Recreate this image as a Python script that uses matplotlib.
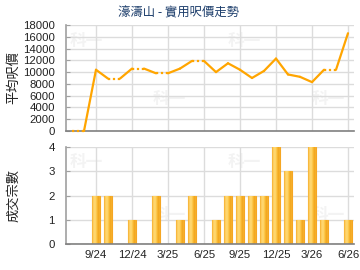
import matplotlib
matplotlib.use("Agg")
import matplotlib.pyplot as plt
import numpy as np
from matplotlib.colors import LinearSegmentedColormap

# ---- data ----
months = ['7/24', '8/24', '9/24', '10/24', '11/24', '12/24', '1/25', '2/25', '3/25',
          '4/25', '5/25', '6/25', '7/25', '8/25', '9/25', '10/25', '11/25', '12/25',
          '1/26', '2/26', '3/26', '4/26', '5/26', '6/26']
prices = [0, 0, 10400, 8900, 8900, 10600, 10600, 9800, 9800, 10600, 11900, 11900,
          10000, 11500, 10400, 9000, 10200, 12300, 9600, 9200, 8300, 10400, 10400, 16600]
counts = [0, 0, 2, 2, 0, 1, 0, 2, 0, 1, 2, 0, 1, 2, 2, 2, 2, 4, 3, 1, 4, 1, 0, 1]
tick_labels = ['9/24', '12/24', '3/25', '6/25', '9/25', '12/25', '3/26', '6/26']
price_ticks = [0, 2000, 4000, 6000, 8000, 10000, 12000, 14000, 16000, 18000]
count_ticks = [0, 1, 2, 3, 4]
title = '濠濤山 - 實用呎價走勢'
ylabel_top = '平均呎價'
ylabel_bottom = '成交宗數'

CJK = ['Noto Sans CJK TC', 'DejaVu Sans']
NUM = ['Liberation Sans', 'DejaVu Sans']

fig = plt.figure(figsize=(3.6, 2.7), dpi=100)
fig.patch.set_facecolor('white')

W, H = 360, 270
def rect(l, t, r, b):
    return [l / W, 1 - b / H, (r - l) / W, (b - t) / H]

ax1 = fig.add_axes(rect(66, 25, 354, 131))
ax2 = fig.add_axes(rect(66, 147, 354, 244))

x = np.arange(len(months))
tick_pos = [months.index(t) for t in tick_labels]

for ax in (ax1, ax2):
    ax.set_xlim(-0.5, 23.5)
    ax.set_xticks(tick_pos)
    ax.grid(True, color='#dcdcdc', linewidth=1.0)
    ax.set_axisbelow(True)
    for s in ('top', 'right'):
        ax.spines[s].set_visible(False)
    ax.spines['left'].set_color('#a0a0a0')
    ax.spines['bottom'].set_color('#808080')
    ax.spines['left'].set_linewidth(1.2)
    ax.spines['bottom'].set_linewidth(1.2)
    ax.tick_params(axis='y', direction='in', length=3, color='#a0a0a0', pad=8,
                   labelsize=8.2, labelcolor='#222222')
    ax.tick_params(axis='x', length=0, pad=4, labelsize=8.2, labelcolor='#222222')
    for lab in ax.get_yticklabels() + ax.get_xticklabels():
        lab.set_family(NUM)

# watermark
for ax in (ax1, ax2):
    for (wx, wy) in [(0.07, 0.85), (0.62, 0.85), (0.36, 0.3), (0.91, 0.3)]:
        ax.text(wx, wy, '科一', transform=ax.transAxes, fontsize=12, color='#f3f3f3',
                family=CJK, fontweight='bold', ha='center', va='center', zorder=0)

# ---- line chart ----
ax1.set_ylim(0, 18000)
ax1.set_yticks(price_ticks)
ax1.set_xticklabels([])
orange = '#FFA500'
for i in range(len(x) - 1):
    dotted = counts[i + 1] == 0
    ax1.plot(x[i:i + 2], prices[i:i + 2], color=orange, linewidth=1.6,
             linestyle=(0, (1, 1.2)) if dotted else '-',
             solid_capstyle='round', zorder=3, clip_on=False)
fig.text(179 / W, 1 - 13 / H, title, family=CJK, fontsize=8.9, color='#1c3d6b',
         ha='center', va='center')
ax1.set_ylabel(ylabel_top, family=CJK, fontsize=9.5, color='#222222')
ax1.yaxis.set_label_coords(-0.16, 0.5)

# ---- bar chart ----
ax2.set_ylim(0, 4)
ax2.set_yticks(count_ticks)
ax2.set_xticklabels(tick_labels)
bw = 0.62
bars = ax2.bar(x, counts, width=bw, color='#f7b235', edgecolor='#f5a623',
               linewidth=0.8, zorder=2)
cmap = LinearSegmentedColormap.from_list(
    'g', ['#f5ac2a', '#ffd46a', '#ffd973', '#fcc443', '#f2a51a', '#f7b232'])
grad = np.linspace(0, 1, 64).reshape(1, -1)
for b, c in zip(bars, counts):
    if c <= 0:
        continue
    x0 = b.get_x()
    im = ax2.imshow(grad, cmap=cmap, aspect='auto',
                    extent=(x0, x0 + bw, 0, c), zorder=2.5, interpolation='bilinear')
    im.set_clip_path(b)
ax2.set_xlim(-0.5, 23.5)
ax2.set_ylim(0, 4)
ax2.set_ylabel(ylabel_bottom, family=CJK, fontsize=9.5, color='#222222')
ax2.yaxis.set_label_coords(-0.16, 0.5)

fig.savefig('out.png', dpi=100, facecolor='white')
